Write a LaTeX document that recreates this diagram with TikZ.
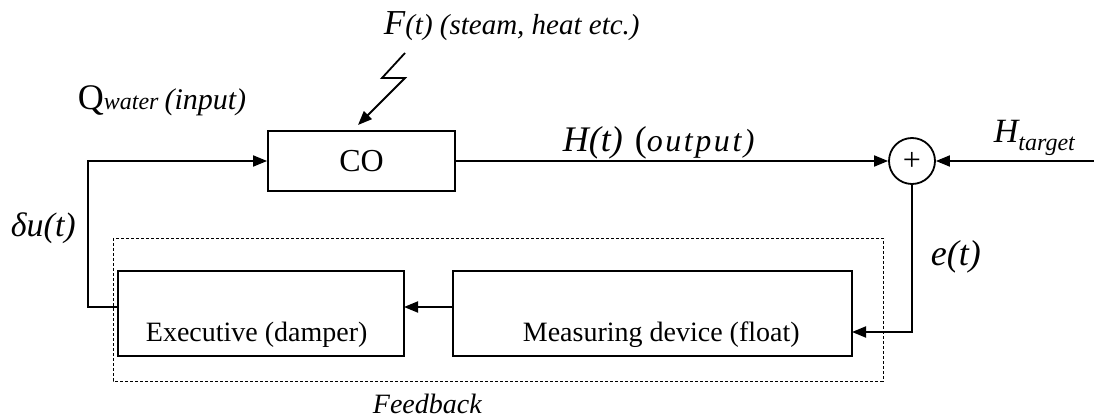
\documentclass[tikz,border=0pt]{standalone}
\usepackage{fontspec}
\setmainfont{Liberation Serif}
\usetikzlibrary{arrows.meta}
\newcommand{\fs}[1]{\fontsize{#1}{#1}\selectfont}
\begin{document}
\begin{tikzpicture}[x=0.5pt,y=-0.5pt,line width=0.9pt,
    >={Triangle[length=7pt,width=5.5pt]},
    blk/.style={draw,rectangle,inner sep=0pt},
    lbl/.style={anchor=base west,inner sep=0pt}]
    \useasboundingbox (0,0) rectangle (1094,417);
    % blocks
    \node[blk,minimum width=93.5pt,minimum height=30pt,font=\fs{16}] (co) at (361.5,161) {CO};
    \node[draw,circle,inner sep=0pt,minimum size=23pt,font=\fs{16}] (sum) at (912,161) {+};
    \node[blk,minimum width=143pt,minimum height=42.5pt] (exec) at (261,313.5) {};
    \node[blk,minimum width=199.5pt,minimum height=42.5pt] (meas) at (652.5,313.5) {};
    \node[lbl,font=\fs{14}] (exectxt) at (145,342) {Executive (damper)};
    \node[lbl,font=\fs{14}] (meastxt) at (522,342) {Measuring device (float)};
    \draw[line width=0.4pt,dash pattern=on 1.5pt off 1pt] (113,238) rectangle (883,381);
    % connectors
    \coordinate (uout) at (118,307);
    \coordinate (mout) at (453,307);
    \coordinate (eout) at (404,307);
    \coordinate (ein) at (852,332);
    \coordinate (ht) at (1094,161);
    \coordinate (dist) at (405,53);
    \draw[->] (uout) -- ++(-30,0) |- (co.west);
    \draw[->] (co.east) -- (sum.west);
    \draw[->] (ht) -- (sum.east);
    \draw[->] (sum.south) |- (ein);
    \draw[->] (mout) -- (eout);
    \draw[->] (dist) -- (382,78) -- (405,78) -- (358,125);
    % labels
    \node[lbl] (flbl) at (383,35) {\itshape\fs{17.5}F\fs{14.5}(t) (steam, heat etc.)};
    \node[lbl] (qlbl) at (77,110) {\fs{18}Q\itshape\fs{12}water \fs{15}(input)};
    \node[lbl] (hlbl) at (562,152) {\itshape\fs{18}H(t)\hspace{6pt}\upshape(\itshape\fs{16}\addfontfeature{LetterSpace=8}output)};
    \node[lbl] (htlbl) at (993,143) {\itshape\fs{17}H\raisebox{-4pt}{\fs{12}target}};
    \node[lbl] (ulbl) at (10,237) {\itshape\fs{17}δu(t)};
    \node[lbl] (elbl) at (930,265) {\itshape\fs{18}e(t)};
    \node[lbl] (fb) at (372,413) {\itshape\fs{14}Feedback};
\end{tikzpicture}
\end{document}
